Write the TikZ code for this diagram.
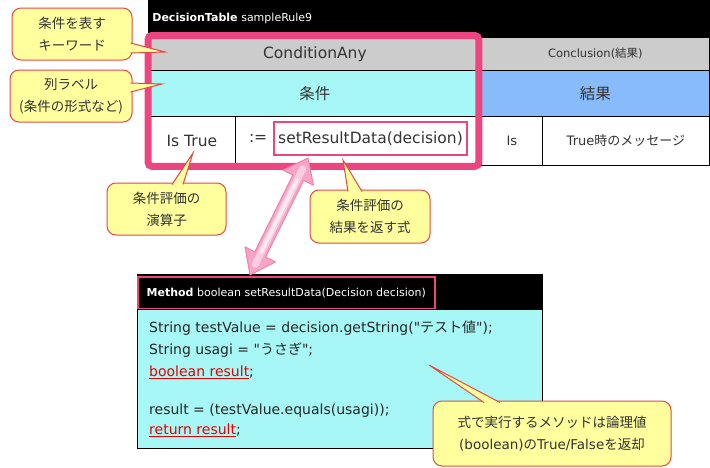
\documentclass[tikz,border=0pt]{standalone}
\usepackage{fontspec}
\setmainfont{DejaVu Sans}
\newfontfamily\jp{Noto Sans CJK JP}
\usetikzlibrary{positioning, calc}

\definecolor{framepink}{RGB}{236,70,128}
\definecolor{kwgray}{RGB}{204,204,204}
\definecolor{condcyan}{RGB}{166,247,245}
\definecolor{conblue}{RGB}{135,187,250}
\definecolor{memoyellow}{RGB}{255,255,158}
\definecolor{memored}{RGB}{228,72,72}
\definecolor{arrowpink}{RGB}{242,130,172}
\definecolor{arrowfill}{RGB}{246,165,198}
\definecolor{codered}{RGB}{230,0,0}
\definecolor{inkgray}{RGB}{51,51,51}

\tikzset{
  cell/.style={draw=black, line width=0.8pt, anchor=north west, inner sep=0pt, text=inkgray},
  memo/.style={draw=memored, line width=1pt, fill=memoyellow, rounded corners=9pt, align=center,
    text=inkgray, font=\jp\fontsize{13.5}{22}\selectfont},
  memoline/.style={draw=memored, line width=1pt},
}

\begin{document}
\begin{tikzpicture}[x=1pt, y=-1pt]
    \useasboundingbox (0,0) rectangle (710,467);

    % decision table
    \node[cell, fill=black, minimum width=561pt, minimum height=37pt, text width=553pt, inner xsep=4pt,
          align=left, text=white, font=\fontsize{11}{13}\selectfont] (hdr) at (148,0) {\textbf{DecisionTable} sampleRule9};
    \node[cell, fill=kwgray, minimum width=333pt, minimum height=33pt, font=\fontsize{15.5}{17}\selectfont] (kw) at (148,37) {ConditionAny};
    \node[cell, fill=kwgray, minimum width=228pt, minimum height=33pt, font=\fontsize{11.5}{13}\selectfont] (ckw) at (481,37) {Conclusion({\jp 結果})};
    \node[cell, fill=condcyan, minimum width=333pt, minimum height=46pt, font=\jp\fontsize{15.5}{17}\selectfont] (lbl) at (148,70) {条件};
    \node[cell, fill=conblue, minimum width=228pt, minimum height=46pt, font=\jp\fontsize{15.5}{17}\selectfont] (clbl) at (481,70) {結果};
    \node[cell, fill=white, minimum width=87pt, minimum height=49pt, font=\fontsize{15.5}{17}\selectfont] (op) at (148,116) {Is True};
    \node[cell, fill=white, minimum width=246pt, minimum height=49pt] (expr) at (235,116) {};
    \node[cell, fill=white, minimum width=61pt, minimum height=49pt, font=\fontsize{13}{15}\selectfont] (cop) at (481,116) {Is};
    \node[cell, fill=white, minimum width=167pt, minimum height=49pt, font=\fontsize{13}{15}\selectfont] (cval) at (542,116) {True{\jp 時のメッセージ}};

    \node[draw=framepink, line width=2.5pt, minimum width=193pt, minimum height=33pt, inner sep=0pt,
          text=inkgray, font=\fontsize{15.5}{17}\selectfont] (call) at (370.5,138.5) {setResultData(decision)};
    \node[left=2pt of call, text=inkgray, font=\fontsize{15.5}{17}\selectfont] (assign) {:=};

    \draw[framepink, line width=7pt, rounded corners=4pt] ($(kw.north west)+(0,-1.5)$) rectangle ($(expr.south east)+(-3,0.5)$);

    % method
    \node[cell, fill=black, minimum width=405pt, minimum height=35pt] (mhead) at (137,274) {};
    \node[draw=framepink, fill=black, line width=2.5pt, minimum width=297pt, minimum height=32pt, inner sep=0pt,
          anchor=north west, text=white, font=\fontsize{11}{13}\selectfont] (msig) at (136.5,275.5) {\textbf{Method} boolean setResultData(Decision decision)};
    \node[cell, fill=condcyan, minimum width=405pt, minimum height=139pt] (mbody) at (137,309) {};
    \node[anchor=north west, align=left, inner sep=0pt, text=black!85, font=\fontsize{14}{22}\selectfont] (code) at (149,321) {%
        String testValue = decision.getString(\textquotedbl{\jp テスト値}\textquotedbl);\\
        String usagi = \textquotedbl{\jp うさぎ}\textquotedbl;\\
        \textcolor{codered}{\underline{boolean result}};\\[16pt]
        result = (testValue.equals(usagi));\\[-2pt]
        \textcolor{codered}{\underline{return result}};};

    % link arrow
    \coordinate (lowtip) at (250,275);
    \coordinate (uptip) at (308,158);
    \coordinate (lowbase) at ($(lowtip)!23pt!(uptip)$);
    \coordinate (upbase) at ($(uptip)!22pt!(lowtip)$);
    \filldraw[draw=arrowpink, fill=arrowfill, line width=1pt, line join=round]
        (lowtip) -- ($(lowbase)!17pt!90:(uptip)$) -- ($(lowbase)!6pt!90:(uptip)$)
        -- ($(upbase)!6pt!-90:(lowtip)$) -- ($(upbase)!17pt!-90:(lowtip)$) -- (uptip)
        -- ($(upbase)!17pt!90:(lowtip)$) -- ($(upbase)!6pt!90:(lowtip)$)
        -- ($(lowbase)!6pt!-90:(uptip)$) -- ($(lowbase)!17pt!-90:(uptip)$) -- cycle;
    \draw[white!45!arrowfill, line width=7pt, line cap=round] ($(lowtip)!12pt!(uptip)$) -- ($(uptip)!12pt!(lowtip)$);
    \draw[white!75!arrowfill, line width=3.5pt, line cap=round] ($(lowtip)!25pt!(uptip)$) -- ($(uptip)!25pt!(lowtip)$);

    % callouts
    \node[memo, minimum width=120pt, minimum height=52pt] (memoKey) at (72,34) {条件を表す\\キーワード};
    \node[memo, minimum width=122pt, minimum height=52pt] (memoLabel) at (71,96) {列ラベル\\(条件の形式など)};
    \node[memo, minimum width=119pt, minimum height=52pt] (memoOp) at (166.5,209) {条件評価の\\演算子};
    \node[memo, minimum width=120pt, minimum height=53pt] (memoExpr) at (370,216.5) {条件評価の\\結果を返す式};
    \node[memo, minimum width=238pt, minimum height=65pt] (memoRet) at (552,433.5)
        {式で実行するメソッドは論理値\\{\rmfamily (boolean)}の{\rmfamily True/False}を返却};

    \coordinate (keyTip) at (165,52);
    \coordinate (labelTip) at (162,84);
    \coordinate (opTip) at (193,153);
    \coordinate (exprTip) at (343,160);
    \coordinate (retTip) at (429,365);

    \fill[memoyellow] ($(memoKey.east)+(-2,9)$) -- (keyTip) -- ($(memoKey.east)+(-2,19)$) -- cycle;
    \draw[memoline] ($(memoKey.east)+(-2,9)$) -- (keyTip) -- ($(memoKey.east)+(-2,19)$);
    \fill[memoyellow] ($(memoLabel.east)+(-2,-13)$) -- (labelTip) -- ($(memoLabel.east)+(-2,-4)$) -- cycle;
    \draw[memoline] ($(memoLabel.east)+(-2,-13)$) -- (labelTip) -- ($(memoLabel.east)+(-2,-4)$);
    \fill[memoyellow] ($(memoOp.north)+(5.5,2)$) -- (opTip) -- ($(memoOp.north)+(16.5,2)$) -- cycle;
    \draw[memoline] ($(memoOp.north)+(5.5,2)$) -- (opTip) -- ($(memoOp.north)+(16.5,2)$);
    \fill[memoyellow] ($(memoExpr.north)+(-22,2)$) -- (exprTip) -- ($(memoExpr.north)+(-8,2)$) -- cycle;
    \draw[memoline] ($(memoExpr.north)+(-22,2)$) -- (exprTip) -- ($(memoExpr.north)+(-8,2)$);
    \fill[memoyellow] ($(memoRet.north)+(-68,2)$) -- (retTip) -- ($(memoRet.north)+(-52,2)$) -- cycle;
    \draw[memoline] ($(memoRet.north)+(-68,2)$) -- (retTip) -- ($(memoRet.north)+(-52,2)$);
\end{tikzpicture}
\end{document}
